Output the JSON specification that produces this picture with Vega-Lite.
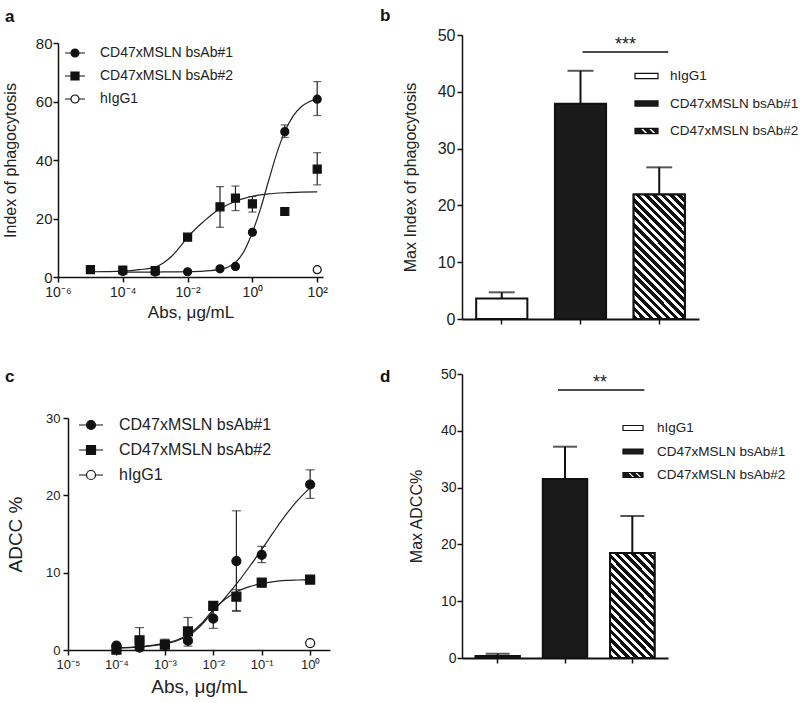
{
"$schema": "https://vega.github.io/schema/vega-lite/v6.json",
"autosize": {"type": "none"},
"padding": {"left": 68, "top": 35, "right": 732, "bottom": 668},
"config": {
  "font": "Liberation Sans",
  "view": {"stroke": null},
  "axis": {"domainColor": "#111", "domainWidth": 1.5, "tickColor": "#111", "tickWidth": 1.5, "tickSize": 5, "labelColor": "#222", "titleColor": "#222", "titleFontWeight": "normal", "grid": false, "labelFont": "Liberation Sans", "titleFont": "Liberation Sans"},
  "legend": {"labelColor": "#222", "labelFont": "Liberation Sans"},
  "title": {"color": "#111", "font": "Liberation Sans"}
},
"datasets": {
  "pts": [
    {"p":"a","s":"CD47xMSLN bsAb#1","x":0.0001,"y":1.9},
    {"p":"a","s":"CD47xMSLN bsAb#1","x":0.001,"y":1.7},
    {"p":"a","s":"CD47xMSLN bsAb#1","x":0.01,"y":1.8},
    {"p":"a","s":"CD47xMSLN bsAb#1","x":0.1,"y":2.8},
    {"p":"a","s":"CD47xMSLN bsAb#1","x":0.3,"y":3.6},
    {"p":"a","s":"CD47xMSLN bsAb#1","x":1,"y":15.3},
    {"p":"a","s":"CD47xMSLN bsAb#1","x":10,"y":49.7,"lo":47.7,"hi":52},
    {"p":"a","s":"CD47xMSLN bsAb#1","x":100,"y":60.8,"lo":55.2,"hi":66.8},
    {"p":"a","s":"CD47xMSLN bsAb#2","x":0.00001,"y":2.5},
    {"p":"a","s":"CD47xMSLN bsAb#2","x":0.0001,"y":2.4},
    {"p":"a","s":"CD47xMSLN bsAb#2","x":0.001,"y":2.2},
    {"p":"a","s":"CD47xMSLN bsAb#2","x":0.01,"y":13.6},
    {"p":"a","s":"CD47xMSLN bsAb#2","x":0.1,"y":24,"lo":17,"hi":30.9},
    {"p":"a","s":"CD47xMSLN bsAb#2","x":0.3,"y":27,"lo":22.7,"hi":31.1},
    {"p":"a","s":"CD47xMSLN bsAb#2","x":1,"y":25,"lo":22.2,"hi":27.5},
    {"p":"a","s":"CD47xMSLN bsAb#2","x":10,"y":22.4},
    {"p":"a","s":"CD47xMSLN bsAb#2","x":100,"y":36.9,"lo":31.5,"hi":42.5},
    {"p":"a","s":"hIgG1","x":100,"y":2.5},
    {"p":"c","s":"CD47xMSLN bsAb#1","x":0.0001,"y":0.56},
    {"p":"c","s":"CD47xMSLN bsAb#1","x":0.0003,"y":0.3},
    {"p":"c","s":"CD47xMSLN bsAb#1","x":0.001,"y":0.65},
    {"p":"c","s":"CD47xMSLN bsAb#1","x":0.003,"y":1.2,"lo":0.5,"hi":1.9},
    {"p":"c","s":"CD47xMSLN bsAb#1","x":0.01,"y":4.05,"lo":2.8,"hi":5.3},
    {"p":"c","s":"CD47xMSLN bsAb#1","x":0.03,"y":11.5,"lo":5.1,"hi":18},
    {"p":"c","s":"CD47xMSLN bsAb#1","x":0.1,"y":12.3,"lo":11.3,"hi":13.4},
    {"p":"c","s":"CD47xMSLN bsAb#1","x":1,"y":21.4,"lo":19.6,"hi":23.3},
    {"p":"c","s":"CD47xMSLN bsAb#2","x":0.0001,"y":0.05},
    {"p":"c","s":"CD47xMSLN bsAb#2","x":0.0003,"y":1.25,"lo":0,"hi":2.9},
    {"p":"c","s":"CD47xMSLN bsAb#2","x":0.001,"y":0.7,"lo":0.2,"hi":1.4},
    {"p":"c","s":"CD47xMSLN bsAb#2","x":0.003,"y":2.4,"lo":0.9,"hi":4.2},
    {"p":"c","s":"CD47xMSLN bsAb#2","x":0.01,"y":5.7},
    {"p":"c","s":"CD47xMSLN bsAb#2","x":0.03,"y":6.9,"lo":5,"hi":7.8},
    {"p":"c","s":"CD47xMSLN bsAb#2","x":0.1,"y":8.7},
    {"p":"c","s":"CD47xMSLN bsAb#2","x":1,"y":9.1},
    {"p":"c","s":"hIgG1","x":1,"y":0.9}
  ],
  "curves": [
    {"p":"a","s":"CD47xMSLN bsAb#1","x":0.0001,"y":1.7},
    {"p":"a","s":"CD47xMSLN bsAb#1","x":0.00031623,"y":1.7},
    {"p":"a","s":"CD47xMSLN bsAb#1","x":0.001,"y":1.7},
    {"p":"a","s":"CD47xMSLN bsAb#1","x":0.0031623,"y":1.75},
    {"p":"a","s":"CD47xMSLN bsAb#1","x":0.01,"y":1.8},
    {"p":"a","s":"CD47xMSLN bsAb#1","x":0.031623,"y":2.0},
    {"p":"a","s":"CD47xMSLN bsAb#1","x":0.1,"y":2.6},
    {"p":"a","s":"CD47xMSLN bsAb#1","x":0.17783,"y":3.4},
    {"p":"a","s":"CD47xMSLN bsAb#1","x":0.31623,"y":5.2},
    {"p":"a","s":"CD47xMSLN bsAb#1","x":0.56234,"y":9.0},
    {"p":"a","s":"CD47xMSLN bsAb#1","x":1,"y":15.3},
    {"p":"a","s":"CD47xMSLN bsAb#1","x":1.7783,"y":23.3},
    {"p":"a","s":"CD47xMSLN bsAb#1","x":3.1623,"y":32.9},
    {"p":"a","s":"CD47xMSLN bsAb#1","x":5.6234,"y":42.2},
    {"p":"a","s":"CD47xMSLN bsAb#1","x":10,"y":49.7},
    {"p":"a","s":"CD47xMSLN bsAb#1","x":17.783,"y":54.9},
    {"p":"a","s":"CD47xMSLN bsAb#1","x":31.623,"y":58.1},
    {"p":"a","s":"CD47xMSLN bsAb#1","x":56.234,"y":59.9},
    {"p":"a","s":"CD47xMSLN bsAb#1","x":100,"y":60.9},
    {"p":"a","s":"CD47xMSLN bsAb#2","x":0.00001,"y":1.8},
    {"p":"a","s":"CD47xMSLN bsAb#2","x":0.000031623,"y":1.85},
    {"p":"a","s":"CD47xMSLN bsAb#2","x":0.0001,"y":2.0},
    {"p":"a","s":"CD47xMSLN bsAb#2","x":0.00031623,"y":2.5},
    {"p":"a","s":"CD47xMSLN bsAb#2","x":0.001,"y":3.4},
    {"p":"a","s":"CD47xMSLN bsAb#2","x":0.0017783,"y":4.8},
    {"p":"a","s":"CD47xMSLN bsAb#2","x":0.0031623,"y":7.0},
    {"p":"a","s":"CD47xMSLN bsAb#2","x":0.0056234,"y":10.1},
    {"p":"a","s":"CD47xMSLN bsAb#2","x":0.01,"y":13.6},
    {"p":"a","s":"CD47xMSLN bsAb#2","x":0.017783,"y":16.5},
    {"p":"a","s":"CD47xMSLN bsAb#2","x":0.031623,"y":19.0},
    {"p":"a","s":"CD47xMSLN bsAb#2","x":0.056234,"y":21.4},
    {"p":"a","s":"CD47xMSLN bsAb#2","x":0.1,"y":23.3},
    {"p":"a","s":"CD47xMSLN bsAb#2","x":0.17783,"y":24.8},
    {"p":"a","s":"CD47xMSLN bsAb#2","x":0.31623,"y":26.0},
    {"p":"a","s":"CD47xMSLN bsAb#2","x":0.56234,"y":26.9},
    {"p":"a","s":"CD47xMSLN bsAb#2","x":1,"y":27.6},
    {"p":"a","s":"CD47xMSLN bsAb#2","x":3.1623,"y":28.4},
    {"p":"a","s":"CD47xMSLN bsAb#2","x":10,"y":28.8},
    {"p":"a","s":"CD47xMSLN bsAb#2","x":31.623,"y":29.0},
    {"p":"a","s":"CD47xMSLN bsAb#2","x":100,"y":29.1},
    {"p":"c","s":"CD47xMSLN bsAb#1","x":0.0001,"y":0.25},
    {"p":"c","s":"CD47xMSLN bsAb#1","x":0.00031623,"y":0.4},
    {"p":"c","s":"CD47xMSLN bsAb#1","x":0.001,"y":0.8},
    {"p":"c","s":"CD47xMSLN bsAb#1","x":0.0017783,"y":1.2},
    {"p":"c","s":"CD47xMSLN bsAb#1","x":0.0031623,"y":1.9},
    {"p":"c","s":"CD47xMSLN bsAb#1","x":0.0056234,"y":3.2},
    {"p":"c","s":"CD47xMSLN bsAb#1","x":0.01,"y":5.0},
    {"p":"c","s":"CD47xMSLN bsAb#1","x":0.017783,"y":6.8},
    {"p":"c","s":"CD47xMSLN bsAb#1","x":0.031623,"y":8.7},
    {"p":"c","s":"CD47xMSLN bsAb#1","x":0.056234,"y":10.8},
    {"p":"c","s":"CD47xMSLN bsAb#1","x":0.1,"y":13.0},
    {"p":"c","s":"CD47xMSLN bsAb#1","x":0.17783,"y":15.3},
    {"p":"c","s":"CD47xMSLN bsAb#1","x":0.31623,"y":17.5},
    {"p":"c","s":"CD47xMSLN bsAb#1","x":0.56234,"y":19.4},
    {"p":"c","s":"CD47xMSLN bsAb#1","x":1,"y":21.0},
    {"p":"c","s":"CD47xMSLN bsAb#2","x":0.0001,"y":0.3},
    {"p":"c","s":"CD47xMSLN bsAb#2","x":0.00031623,"y":0.45},
    {"p":"c","s":"CD47xMSLN bsAb#2","x":0.001,"y":0.9},
    {"p":"c","s":"CD47xMSLN bsAb#2","x":0.0017783,"y":1.3},
    {"p":"c","s":"CD47xMSLN bsAb#2","x":0.0031623,"y":2.1},
    {"p":"c","s":"CD47xMSLN bsAb#2","x":0.0056234,"y":3.4},
    {"p":"c","s":"CD47xMSLN bsAb#2","x":0.01,"y":5.2},
    {"p":"c","s":"CD47xMSLN bsAb#2","x":0.017783,"y":6.6},
    {"p":"c","s":"CD47xMSLN bsAb#2","x":0.031623,"y":7.6},
    {"p":"c","s":"CD47xMSLN bsAb#2","x":0.056234,"y":8.2},
    {"p":"c","s":"CD47xMSLN bsAb#2","x":0.1,"y":8.6},
    {"p":"c","s":"CD47xMSLN bsAb#2","x":0.17783,"y":8.85},
    {"p":"c","s":"CD47xMSLN bsAb#2","x":0.31623,"y":9.0},
    {"p":"c","s":"CD47xMSLN bsAb#2","x":0.56234,"y":9.05},
    {"p":"c","s":"CD47xMSLN bsAb#2","x":1,"y":9.1}
  ],
  "bars": [
    {"p":"b","g":"hIgG1","v":3.6,"hi":4.7},
    {"p":"b","g":"CD47xMSLN bsAb#1","v":37.9,"hi":43.7},
    {"p":"b","g":"CD47xMSLN bsAb#2","v":21.9,"hi":26.7},
    {"p":"d","g":"hIgG1","v":0.35,"hi":0.76},
    {"p":"d","g":"CD47xMSLN bsAb#1","v":31.5,"hi":37.2},
    {"p":"d","g":"CD47xMSLN bsAb#2","v":18.5,"hi":25.0}
  ],
  "sig": [
    {"p":"b","from":"CD47xMSLN bsAb#1","to":"CD47xMSLN bsAb#2","y":47.0,"t":"***"},
    {"p":"d","from":"CD47xMSLN bsAb#1","to":"CD47xMSLN bsAb#2","y":47.2,"t":"**"}
  ]
},
"columns": 2,
"spacing": {"row": 55, "column": 132},
"bounds": "flush",
"resolve": {"scale": {"fill": "independent", "shape": "independent", "stroke": "independent"}},
"concat": [
  {
    "width": 255, "height": 242,
    "title": {"text": "a", "anchor": "start", "frame": "group", "dx": -63, "offset": -4, "fontSize": 17, "fontWeight": "bold", "baseline": "alphabetic"},
    "resolve": {"scale": {"fill": "independent", "shape": "independent", "stroke": "independent"}},
    "layer": [
      {
        "data": {"name": "curves"},
        "transform": [{"filter": "datum.p === 'a'"}],
        "mark": {"type": "line", "color": "#222", "strokeWidth": 1.2, "interpolate": "monotone"},
        "encoding": {
          "x": {"field": "x", "type": "quantitative", "title": "Abs, μg/mL",
            "scale": {"type": "log", "domain": [0.000001, 151], "range": [-10, 255], "nice": false},
            "axis": {"values": [0.000001, 0.0001, 0.01, 1, 100], "labelExpr": "'10' + (round(log(datum.value)/LN10) < 0 ? '⁻' : '') + substring('⁰¹²³⁴⁵⁶⁷⁸⁹', abs(round(log(datum.value)/LN10)), abs(round(log(datum.value)/LN10)) + 1)", "labelFontSize": 14, "labelPadding": 3, "labelFlush": false, "labelOverlap": false, "titleFontSize": 17, "titlePadding": 5}},
          "y": {"field": "y", "type": "quantitative", "title": "Index of phagocytosis",
            "scale": {"domain": [0, 80], "range": [242, 8], "nice": false, "zero": false},
            "axis": {"values": [0, 20, 40, 60, 80], "offset": 10, "labelFontSize": 15, "labelPadding": 1, "titleFontSize": 16, "titlePadding": 17}},
          "detail": {"field": "s", "type": "nominal"}
        }
      },
      {
        "data": {"name": "pts"},
        "transform": [{"filter": "datum.p === 'a' && isValid(datum.hi)"}],
        "mark": {"type": "rule", "color": "#222", "strokeWidth": 1.2},
        "encoding": {
          "x": {"field": "x", "type": "quantitative", "title": "Abs, μg/mL"},
          "y": {"field": "lo", "type": "quantitative", "title": "Index of phagocytosis"},
          "y2": {"field": "hi"}
        }
      },
      {
        "data": {"name": "pts"},
        "transform": [{"filter": "datum.p === 'a' && isValid(datum.hi)"}],
        "mark": {"type": "tick", "orient": "horizontal", "color": "#222", "size": 8, "thickness": 1.2},
        "encoding": {
          "x": {"field": "x", "type": "quantitative", "title": "Abs, μg/mL"},
          "y": {"field": "hi", "type": "quantitative", "title": "Index of phagocytosis"}
        }
      },
      {
        "data": {"name": "pts"},
        "transform": [{"filter": "datum.p === 'a' && isValid(datum.lo)"}],
        "mark": {"type": "tick", "orient": "horizontal", "color": "#222", "size": 8, "thickness": 1.2},
        "encoding": {
          "x": {"field": "x", "type": "quantitative", "title": "Abs, μg/mL"},
          "y": {"field": "lo", "type": "quantitative", "title": "Index of phagocytosis"}
        }
      },
      {
        "data": {"name": "pts"},
        "transform": [{"filter": "datum.p === 'a'"}],
        "mark": {"type": "point", "filled": true, "stroke": "#111", "strokeWidth": 1.2, "size": 64, "opacity": 1},
        "encoding": {
          "x": {"field": "x", "type": "quantitative", "title": "Abs, μg/mL"},
          "y": {"field": "y", "type": "quantitative", "title": "Index of phagocytosis"},
          "shape": {"field": "s", "type": "nominal", "legend": null,
            "scale": {"domain": ["CD47xMSLN bsAb#2", "CD47xMSLN bsAb#1", "hIgG1"], "range": ["square", "circle", "circle"]}},
          "fill": {"field": "s", "type": "nominal", "legend": null,
            "scale": {"domain": ["CD47xMSLN bsAb#2", "CD47xMSLN bsAb#1", "hIgG1"], "range": ["#111", "#111", "white"]}}
        }
      },
      {
        "data": {"name": "pts"},
        "transform": [{"filter": "false"}],
        "mark": {"type": "point", "filled": true, "strokeWidth": 1.2, "opacity": 1},
        "encoding": {
          "x": {"field": "x", "type": "quantitative", "title": "Abs, μg/mL"},
          "y": {"field": "y", "type": "quantitative", "title": "Index of phagocytosis"},
          "shape": {"field": "s", "type": "nominal",
            "scale": {"domain": ["CD47xMSLN bsAb#1", "CD47xMSLN bsAb#2", "hIgG1"], "range": ["M-1,0H-0.4M0.4,0H1M-0.4,0A0.4,0.4,0,1,1,0.4,0A0.4,0.4,0,1,1,-0.4,0Z", "M-1,0H-0.4M0.4,0H1M-0.4,-0.4H0.4V0.4H-0.4Z", "M-1,0H-0.4M0.4,0H1M-0.4,0A0.4,0.4,0,1,1,0.4,0A0.4,0.4,0,1,1,-0.4,0Z"]},
            "legend": {"title": null, "orient": "none", "legendX": -4, "legendY": 7, "symbolSize": 400, "rowPadding": 5, "labelFontSize": 14, "labelOffset": 14, "labelColor": "#222", "symbolStrokeWidth": 1.2}},
          "fill": {"field": "s", "type": "nominal",
            "scale": {"domain": ["CD47xMSLN bsAb#1", "CD47xMSLN bsAb#2", "hIgG1"], "range": ["#111", "#111", "white"]},
            "legend": {"title": null, "orient": "none", "legendX": -4, "legendY": 7, "symbolSize": 400, "rowPadding": 5, "labelFontSize": 14, "labelOffset": 14, "labelColor": "#222", "symbolStrokeWidth": 1.2}},
          "stroke": {"field": "s", "type": "nominal",
            "scale": {"domain": ["CD47xMSLN bsAb#1", "CD47xMSLN bsAb#2", "hIgG1"], "range": ["#111", "#111", "#111"]},
            "legend": {"title": null, "orient": "none", "legendX": -4, "legendY": 7, "symbolSize": 400, "rowPadding": 5, "labelFontSize": 14, "labelOffset": 14, "labelColor": "#222", "symbolStrokeWidth": 1.2}}
        }
      }
    ]
  },
  {
    "width": 237, "height": 284,
    "title": {"text": "b", "anchor": "start", "frame": "group", "dx": -82, "offset": -11, "fontSize": 17, "fontWeight": "bold", "baseline": "alphabetic"},
    "resolve": {"scale": {"fill": "independent", "shape": "independent", "stroke": "independent"}},
    "layer": [
      {
        "data": {"name": "bars"},
        "transform": [{"filter": "datum.p === 'b'"}],
        "mark": {"type": "rule", "color": "#111", "strokeWidth": 2},
        "encoding": {
          "x": {"field": "g", "type": "nominal", "title": null, "sort": ["hIgG1", "CD47xMSLN bsAb#1", "CD47xMSLN bsAb#2"],
            "scale": {"domain": ["hIgG1", "CD47xMSLN bsAb#1", "CD47xMSLN bsAb#2"], "paddingInner": 0.35, "paddingOuter": 0.18},
            "axis": {"labels": false, "title": null, "tickSize": 5, "domainWidth": 2}},
          "y": {"field": "v", "type": "quantitative", "title": "Max Index of phagocytosis",
            "scale": {"domain": [0, 50], "nice": false},
            "axis": {"values": [0, 10, 20, 30, 40, 50], "labelFontSize": 16, "labelPadding": 2, "titleFontSize": 16, "titlePadding": 19}},
          "y2": {"field": "hi"}
        }
      },
      {
        "data": {"name": "bars"},
        "transform": [{"filter": "datum.p === 'b'"}],
        "mark": {"type": "tick", "color": "#111", "size": 26, "thickness": 2},
        "encoding": {
          "x": {"field": "g", "type": "nominal", "title": null},
          "y": {"field": "hi", "type": "quantitative", "title": "Max Index of phagocytosis"}
        }
      },
      {
        "data": {"name": "bars"},
        "transform": [{"filter": "datum.p === 'b'"}],
        "mark": {"type": "bar", "stroke": "#111", "strokeWidth": 2},
        "encoding": {
          "x": {"field": "g", "type": "nominal", "title": null},
          "y": {"field": "v", "type": "quantitative", "title": "Max Index of phagocytosis"},
          "fill": {"field": "g", "type": "nominal", "legend": null,
            "scale": {"domain": ["CD47xMSLN bsAb#1", "hIgG1", "CD47xMSLN bsAb#2"], "range": ["#1a1a1a", "white", "#1a1a1a"]}}
        }
      },
      {
        "data": {"name": "bars"},
        "transform": [{"filter": "datum.p === 'b' && datum.g === 'CD47xMSLN bsAb#2'"}],
        "mark": {"type": "bar", "stroke": "#111", "strokeWidth": 2,
          "fill": {"gradient": "linear", "x1": 0, "y1": 1, "x2": 0.4983, "y2": -0.2072, "stops": [
            {"offset":0,"color":"#111"},{"offset":0.02619,"color":"#111"},{"offset":0.02619,"color":"white"},{"offset":0.04762,"color":"white"},
            {"offset":0.04762,"color":"#111"},{"offset":0.07381,"color":"#111"},{"offset":0.07381,"color":"white"},{"offset":0.09524,"color":"white"},
            {"offset":0.09524,"color":"#111"},{"offset":0.12143,"color":"#111"},{"offset":0.12143,"color":"white"},{"offset":0.14286,"color":"white"},
            {"offset":0.14286,"color":"#111"},{"offset":0.16905,"color":"#111"},{"offset":0.16905,"color":"white"},{"offset":0.19048,"color":"white"},
            {"offset":0.19048,"color":"#111"},{"offset":0.21667,"color":"#111"},{"offset":0.21667,"color":"white"},{"offset":0.2381,"color":"white"},
            {"offset":0.2381,"color":"#111"},{"offset":0.26429,"color":"#111"},{"offset":0.26429,"color":"white"},{"offset":0.28571,"color":"white"},
            {"offset":0.28571,"color":"#111"},{"offset":0.3119,"color":"#111"},{"offset":0.3119,"color":"white"},{"offset":0.33333,"color":"white"},
            {"offset":0.33333,"color":"#111"},{"offset":0.35952,"color":"#111"},{"offset":0.35952,"color":"white"},{"offset":0.38095,"color":"white"},
            {"offset":0.38095,"color":"#111"},{"offset":0.40714,"color":"#111"},{"offset":0.40714,"color":"white"},{"offset":0.42857,"color":"white"},
            {"offset":0.42857,"color":"#111"},{"offset":0.45476,"color":"#111"},{"offset":0.45476,"color":"white"},{"offset":0.47619,"color":"white"},
            {"offset":0.47619,"color":"#111"},{"offset":0.50238,"color":"#111"},{"offset":0.50238,"color":"white"},{"offset":0.52381,"color":"white"},
            {"offset":0.52381,"color":"#111"},{"offset":0.55,"color":"#111"},{"offset":0.55,"color":"white"},{"offset":0.57143,"color":"white"},
            {"offset":0.57143,"color":"#111"},{"offset":0.59762,"color":"#111"},{"offset":0.59762,"color":"white"},{"offset":0.61905,"color":"white"},
            {"offset":0.61905,"color":"#111"},{"offset":0.64524,"color":"#111"},{"offset":0.64524,"color":"white"},{"offset":0.66667,"color":"white"},
            {"offset":0.66667,"color":"#111"},{"offset":0.69286,"color":"#111"},{"offset":0.69286,"color":"white"},{"offset":0.71429,"color":"white"},
            {"offset":0.71429,"color":"#111"},{"offset":0.74048,"color":"#111"},{"offset":0.74048,"color":"white"},{"offset":0.7619,"color":"white"},
            {"offset":0.7619,"color":"#111"},{"offset":0.7881,"color":"#111"},{"offset":0.7881,"color":"white"},{"offset":0.80952,"color":"white"},
            {"offset":0.80952,"color":"#111"},{"offset":0.83571,"color":"#111"},{"offset":0.83571,"color":"white"},{"offset":0.85714,"color":"white"},
            {"offset":0.85714,"color":"#111"},{"offset":0.88333,"color":"#111"},{"offset":0.88333,"color":"white"},{"offset":0.90476,"color":"white"},
            {"offset":0.90476,"color":"#111"},{"offset":0.93095,"color":"#111"},{"offset":0.93095,"color":"white"},{"offset":0.95238,"color":"white"},
            {"offset":0.95238,"color":"#111"},{"offset":0.97857,"color":"#111"},{"offset":0.97857,"color":"white"},{"offset":1,"color":"white"}]}},
        "encoding": {
          "x": {"field": "g", "type": "nominal", "title": null},
          "y": {"field": "v", "type": "quantitative", "title": "Max Index of phagocytosis"}
        }
      },
      {
        "data": {"name": "sig"},
        "transform": [{"filter": "datum.p === 'b'"}],
        "mark": {"type": "rule", "color": "#111", "strokeWidth": 1.5, "xOffset": 2, "x2Offset": 9},
        "encoding": {
          "x": {"field": "from", "type": "nominal", "title": null},
          "x2": {"field": "to"},
          "y": {"field": "y", "type": "quantitative", "title": "Max Index of phagocytosis"}
        }
      },
      {
        "data": {"name": "sig"},
        "transform": [{"filter": "datum.p === 'b'"}],
        "mark": {"type": "text", "color": "#222", "fontSize": 18, "baseline": "alphabetic", "dx": 45, "dy": -2},
        "encoding": {
          "x": {"field": "from", "type": "nominal", "title": null},
          "y": {"field": "y", "type": "quantitative", "title": "Max Index of phagocytosis"},
          "text": {"field": "t"}
        }
      },
      {
        "data": {"name": "bars"},
        "transform": [{"filter": "false"}],
        "mark": {"type": "point", "filled": true, "strokeWidth": 1.2, "opacity": 1},
        "encoding": {
          "x": {"field": "g", "type": "nominal", "title": null},
          "y": {"field": "v", "type": "quantitative", "title": "Max Index of phagocytosis"},
          "shape": {"field": "g", "type": "nominal",
            "scale": {"domain": ["hIgG1", "CD47xMSLN bsAb#1", "CD47xMSLN bsAb#2"], "range": ["M-1,-0.22H1V0.22H-1Z", "M-1,-0.22H1V0.22H-1Z", "M-1,-0.22H1V0.22H-1Z M-0.6,-0.22L-0.16,0.22L0.19,0.22L-0.25,-0.22Z M0.1,-0.22L0.54,0.22L0.89,0.22L0.45,-0.22Z"]},
            "legend": {"title": null, "orient": "none", "legendX": 172, "legendY": 28.5, "symbolSize": 529, "symbolStrokeWidth": 1.2, "rowPadding": 8.5, "labelFontSize": 13.5, "labelOffset": 11, "labelColor": "#222"}},
          "fill": {"field": "g", "type": "nominal",
            "scale": {"domain": ["hIgG1", "CD47xMSLN bsAb#1", "CD47xMSLN bsAb#2"], "range": ["white", "#1a1a1a", "#1a1a1a"]},
            "legend": {"title": null, "orient": "none", "legendX": 172, "legendY": 28.5, "symbolSize": 529, "symbolStrokeWidth": 1.2, "rowPadding": 8.5, "labelFontSize": 13.5, "labelOffset": 11, "labelColor": "#222"}},
          "stroke": {"field": "g", "type": "nominal",
            "scale": {"domain": ["hIgG1", "CD47xMSLN bsAb#1", "CD47xMSLN bsAb#2"], "range": ["#111", "#111", "#111"]},
            "legend": {"title": null, "orient": "none", "legendX": 172, "legendY": 28.5, "symbolSize": 529, "symbolStrokeWidth": 1.2, "rowPadding": 8.5, "labelFontSize": 13.5, "labelOffset": 11, "labelColor": "#222"}}
        }
      }
    ]
  },
  {
    "width": 262, "height": 276,
    "title": {"text": "c", "anchor": "start", "frame": "group", "dx": -63, "offset": -25, "fontSize": 17, "fontWeight": "bold", "baseline": "alphabetic"},
    "resolve": {"scale": {"fill": "independent", "shape": "independent", "stroke": "independent"}},
    "layer": [
      {
        "data": {"name": "curves"},
        "transform": [{"filter": "datum.p === 'c'"}],
        "mark": {"type": "line", "color": "#222", "strokeWidth": 1.2, "interpolate": "monotone"},
        "encoding": {
          "x": {"field": "x", "type": "quantitative", "title": "Abs, μg/mL",
            "scale": {"type": "log", "domain": [0.00001, 2.57], "nice": false},
            "axis": {"values": [0.00001, 0.0001, 0.001, 0.01, 0.1, 1], "labelExpr": "'10' + (round(log(datum.value)/LN10) < 0 ? '⁻' : '') + substring('⁰¹²³⁴⁵⁶⁷⁸⁹', abs(round(log(datum.value)/LN10)), abs(round(log(datum.value)/LN10)) + 1)", "labelFontSize": 13, "labelPadding": 3, "labelFlush": false, "labelOverlap": false, "titleFontSize": 19, "titlePadding": 6}},
          "y": {"field": "y", "type": "quantitative", "title": "ADCC %",
            "scale": {"domain": [0, 30], "range": [276, 44], "nice": false, "zero": false},
            "axis": {"values": [0, 10, 20, 30], "labelFontSize": 13, "labelPadding": 3, "titleFontSize": 19, "titlePadding": 20}},
          "detail": {"field": "s", "type": "nominal"}
        }
      },
      {
        "data": {"name": "pts"},
        "transform": [{"filter": "datum.p === 'c' && isValid(datum.hi)"}],
        "mark": {"type": "rule", "color": "#222", "strokeWidth": 1.2},
        "encoding": {
          "x": {"field": "x", "type": "quantitative", "title": "Abs, μg/mL"},
          "y": {"field": "lo", "type": "quantitative", "title": "ADCC %"},
          "y2": {"field": "hi"}
        }
      },
      {
        "data": {"name": "pts"},
        "transform": [{"filter": "datum.p === 'c' && isValid(datum.hi)"}],
        "mark": {"type": "tick", "orient": "horizontal", "color": "#222", "size": 9, "thickness": 1.2},
        "encoding": {
          "x": {"field": "x", "type": "quantitative", "title": "Abs, μg/mL"},
          "y": {"field": "hi", "type": "quantitative", "title": "ADCC %"}
        }
      },
      {
        "data": {"name": "pts"},
        "transform": [{"filter": "datum.p === 'c' && isValid(datum.lo)"}],
        "mark": {"type": "tick", "orient": "horizontal", "color": "#222", "size": 9, "thickness": 1.2},
        "encoding": {
          "x": {"field": "x", "type": "quantitative", "title": "Abs, μg/mL"},
          "y": {"field": "lo", "type": "quantitative", "title": "ADCC %"}
        }
      },
      {
        "data": {"name": "pts"},
        "transform": [{"filter": "datum.p === 'c'"}],
        "mark": {"type": "point", "filled": true, "stroke": "#111", "strokeWidth": 1.2, "size": 81, "opacity": 1},
        "encoding": {
          "x": {"field": "x", "type": "quantitative", "title": "Abs, μg/mL"},
          "y": {"field": "y", "type": "quantitative", "title": "ADCC %"},
          "shape": {"field": "s", "type": "nominal", "legend": null,
            "scale": {"domain": ["CD47xMSLN bsAb#2", "CD47xMSLN bsAb#1", "hIgG1"], "range": ["square", "circle", "circle"]}},
          "fill": {"field": "s", "type": "nominal", "legend": null,
            "scale": {"domain": ["CD47xMSLN bsAb#2", "CD47xMSLN bsAb#1", "hIgG1"], "range": ["#111", "#111", "white"]}}
        }
      },
      {
        "data": {"name": "pts"},
        "transform": [{"filter": "false"}],
        "mark": {"type": "point", "filled": true, "strokeWidth": 1.2, "opacity": 1},
        "encoding": {
          "x": {"field": "x", "type": "quantitative", "title": "Abs, μg/mL"},
          "y": {"field": "y", "type": "quantitative", "title": "ADCC %"},
          "shape": {"field": "s", "type": "nominal",
            "scale": {"domain": ["CD47xMSLN bsAb#1", "CD47xMSLN bsAb#2", "hIgG1"], "range": ["M-1,0H-0.375M0.375,0H1M-0.375,0A0.375,0.375,0,1,1,0.375,0A0.375,0.375,0,1,1,-0.375,0Z", "M-1,0H-0.375M0.375,0H1M-0.375,-0.375H0.375V0.375H-0.375Z", "M-1,0H-0.375M0.375,0H1M-0.375,0A0.375,0.375,0,1,1,0.375,0A0.375,0.375,0,1,1,-0.375,0Z"]},
            "legend": {"title": null, "orient": "none", "legendX": 10, "legendY": 38, "symbolSize": 576, "rowPadding": 4, "labelFontSize": 16, "labelOffset": 15, "labelColor": "#222", "symbolStrokeWidth": 1.2}},
          "fill": {"field": "s", "type": "nominal",
            "scale": {"domain": ["CD47xMSLN bsAb#1", "CD47xMSLN bsAb#2", "hIgG1"], "range": ["#111", "#111", "white"]},
            "legend": {"title": null, "orient": "none", "legendX": 10, "legendY": 38, "symbolSize": 576, "rowPadding": 4, "labelFontSize": 16, "labelOffset": 15, "labelColor": "#222", "symbolStrokeWidth": 1.2}},
          "stroke": {"field": "s", "type": "nominal",
            "scale": {"domain": ["CD47xMSLN bsAb#1", "CD47xMSLN bsAb#2", "hIgG1"], "range": ["#111", "#111", "#111"]},
            "legend": {"title": null, "orient": "none", "legendX": 10, "legendY": 38, "symbolSize": 576, "rowPadding": 4, "labelFontSize": 16, "labelOffset": 15, "labelColor": "#222", "symbolStrokeWidth": 1.2}}
        }
      }
    ]
  },
  {
    "width": 206, "height": 284,
    "title": {"text": "d", "anchor": "start", "frame": "group", "dx": -82, "offset": -32, "fontSize": 17, "fontWeight": "bold", "baseline": "alphabetic"},
    "resolve": {"scale": {"fill": "independent", "shape": "independent", "stroke": "independent"}},
    "layer": [
      {
        "data": {"name": "bars"},
        "transform": [{"filter": "datum.p === 'd'"}],
        "mark": {"type": "rule", "color": "#111", "strokeWidth": 2},
        "encoding": {
          "x": {"field": "g", "type": "nominal", "title": null, "sort": ["hIgG1", "CD47xMSLN bsAb#1", "CD47xMSLN bsAb#2"],
            "scale": {"domain": ["hIgG1", "CD47xMSLN bsAb#1", "CD47xMSLN bsAb#2"], "paddingInner": 0.34, "paddingOuter": 0.2},
            "axis": {"labels": false, "title": null, "tickSize": 5, "domainWidth": 2}},
          "y": {"field": "v", "type": "quantitative", "title": "Max ADCC%",
            "scale": {"domain": [0, 50], "nice": false},
            "axis": {"values": [0, 10, 20, 30, 40, 50], "labelFontSize": 14, "labelPadding": 1, "titleFontSize": 16, "titlePadding": 16}},
          "y2": {"field": "hi"}
        }
      },
      {
        "data": {"name": "bars"},
        "transform": [{"filter": "datum.p === 'd'"}],
        "mark": {"type": "tick", "color": "#111", "size": 24, "thickness": 2},
        "encoding": {
          "x": {"field": "g", "type": "nominal", "title": null},
          "y": {"field": "hi", "type": "quantitative", "title": "Max ADCC%"}
        }
      },
      {
        "data": {"name": "bars"},
        "transform": [{"filter": "datum.p === 'd'"}],
        "mark": {"type": "bar", "stroke": "#111", "strokeWidth": 2},
        "encoding": {
          "x": {"field": "g", "type": "nominal", "title": null},
          "y": {"field": "v", "type": "quantitative", "title": "Max ADCC%"},
          "fill": {"field": "g", "type": "nominal", "legend": null,
            "scale": {"domain": ["CD47xMSLN bsAb#1", "hIgG1", "CD47xMSLN bsAb#2"], "range": ["#1a1a1a", "white", "#1a1a1a"]}}
        }
      },
      {
        "data": {"name": "bars"},
        "transform": [{"filter": "datum.p === 'd' && datum.g === 'CD47xMSLN bsAb#2'"}],
        "mark": {"type": "bar", "stroke": "#111", "strokeWidth": 2,
          "fill": {"gradient": "linear", "x1": 0, "y1": 1, "x2": 0.5151, "y2": -0.207, "stops": [
            {"offset":0,"color":"#111"},{"offset":0.03056,"color":"#111"},{"offset":0.03056,"color":"white"},{"offset":0.05556,"color":"white"},
            {"offset":0.05556,"color":"#111"},{"offset":0.08611,"color":"#111"},{"offset":0.08611,"color":"white"},{"offset":0.11111,"color":"white"},
            {"offset":0.11111,"color":"#111"},{"offset":0.14167,"color":"#111"},{"offset":0.14167,"color":"white"},{"offset":0.16667,"color":"white"},
            {"offset":0.16667,"color":"#111"},{"offset":0.19722,"color":"#111"},{"offset":0.19722,"color":"white"},{"offset":0.22222,"color":"white"},
            {"offset":0.22222,"color":"#111"},{"offset":0.25278,"color":"#111"},{"offset":0.25278,"color":"white"},{"offset":0.27778,"color":"white"},
            {"offset":0.27778,"color":"#111"},{"offset":0.30833,"color":"#111"},{"offset":0.30833,"color":"white"},{"offset":0.33333,"color":"white"},
            {"offset":0.33333,"color":"#111"},{"offset":0.36389,"color":"#111"},{"offset":0.36389,"color":"white"},{"offset":0.38889,"color":"white"},
            {"offset":0.38889,"color":"#111"},{"offset":0.41944,"color":"#111"},{"offset":0.41944,"color":"white"},{"offset":0.44444,"color":"white"},
            {"offset":0.44444,"color":"#111"},{"offset":0.475,"color":"#111"},{"offset":0.475,"color":"white"},{"offset":0.5,"color":"white"},
            {"offset":0.5,"color":"#111"},{"offset":0.53056,"color":"#111"},{"offset":0.53056,"color":"white"},{"offset":0.55556,"color":"white"},
            {"offset":0.55556,"color":"#111"},{"offset":0.58611,"color":"#111"},{"offset":0.58611,"color":"white"},{"offset":0.61111,"color":"white"},
            {"offset":0.61111,"color":"#111"},{"offset":0.64167,"color":"#111"},{"offset":0.64167,"color":"white"},{"offset":0.66667,"color":"white"},
            {"offset":0.66667,"color":"#111"},{"offset":0.69722,"color":"#111"},{"offset":0.69722,"color":"white"},{"offset":0.72222,"color":"white"},
            {"offset":0.72222,"color":"#111"},{"offset":0.75278,"color":"#111"},{"offset":0.75278,"color":"white"},{"offset":0.77778,"color":"white"},
            {"offset":0.77778,"color":"#111"},{"offset":0.80833,"color":"#111"},{"offset":0.80833,"color":"white"},{"offset":0.83333,"color":"white"},
            {"offset":0.83333,"color":"#111"},{"offset":0.86389,"color":"#111"},{"offset":0.86389,"color":"white"},{"offset":0.88889,"color":"white"},
            {"offset":0.88889,"color":"#111"},{"offset":0.91944,"color":"#111"},{"offset":0.91944,"color":"white"},{"offset":0.94444,"color":"white"},
            {"offset":0.94444,"color":"#111"},{"offset":0.975,"color":"#111"},{"offset":0.975,"color":"white"},{"offset":1,"color":"white"}]}},
        "encoding": {
          "x": {"field": "g", "type": "nominal", "title": null},
          "y": {"field": "v", "type": "quantitative", "title": "Max ADCC%"}
        }
      },
      {
        "data": {"name": "sig"},
        "transform": [{"filter": "datum.p === 'd'"}],
        "mark": {"type": "rule", "color": "#111", "strokeWidth": 1.5, "xOffset": -7, "x2Offset": 12},
        "encoding": {
          "x": {"field": "from", "type": "nominal", "title": null},
          "x2": {"field": "to"},
          "y": {"field": "y", "type": "quantitative", "title": "Max ADCC%"}
        }
      },
      {
        "data": {"name": "sig"},
        "transform": [{"filter": "datum.p === 'd'"}],
        "mark": {"type": "text", "color": "#222", "fontSize": 18, "baseline": "alphabetic", "dx": 35, "dy": -2},
        "encoding": {
          "x": {"field": "from", "type": "nominal", "title": null},
          "y": {"field": "y", "type": "quantitative", "title": "Max ADCC%"},
          "text": {"field": "t"}
        }
      },
      {
        "data": {"name": "bars"},
        "transform": [{"filter": "false"}],
        "mark": {"type": "point", "filled": true, "strokeWidth": 1.2, "opacity": 1},
        "encoding": {
          "x": {"field": "g", "type": "nominal", "title": null},
          "y": {"field": "v", "type": "quantitative", "title": "Max ADCC%"},
          "shape": {"field": "g", "type": "nominal",
            "scale": {"domain": ["hIgG1", "CD47xMSLN bsAb#1", "CD47xMSLN bsAb#2"], "range": ["M-1,-0.25H1V0.25H-1Z", "M-1,-0.25H1V0.25H-1Z", "M-1,-0.25H1V0.25H-1Z M-0.6,-0.25L-0.1,0.25L0.25,0.25L-0.25,-0.25Z M0.1,-0.25L0.6,0.25L0.95,0.25L0.45,-0.25Z"]},
            "legend": {"title": null, "orient": "none", "legendX": 160, "legendY": 43, "symbolSize": 400, "symbolStrokeWidth": 1.2, "rowPadding": 5.5, "labelFontSize": 13.5, "labelOffset": 13, "labelColor": "#222"}},
          "fill": {"field": "g", "type": "nominal",
            "scale": {"domain": ["hIgG1", "CD47xMSLN bsAb#1", "CD47xMSLN bsAb#2"], "range": ["white", "#1a1a1a", "#1a1a1a"]},
            "legend": {"title": null, "orient": "none", "legendX": 160, "legendY": 43, "symbolSize": 400, "symbolStrokeWidth": 1.2, "rowPadding": 5.5, "labelFontSize": 13.5, "labelOffset": 13, "labelColor": "#222"}},
          "stroke": {"field": "g", "type": "nominal",
            "scale": {"domain": ["hIgG1", "CD47xMSLN bsAb#1", "CD47xMSLN bsAb#2"], "range": ["#111", "#111", "#111"]},
            "legend": {"title": null, "orient": "none", "legendX": 160, "legendY": 43, "symbolSize": 400, "symbolStrokeWidth": 1.2, "rowPadding": 5.5, "labelFontSize": 13.5, "labelOffset": 13, "labelColor": "#222"}}
        }
      }
    ]
  }
]
}
